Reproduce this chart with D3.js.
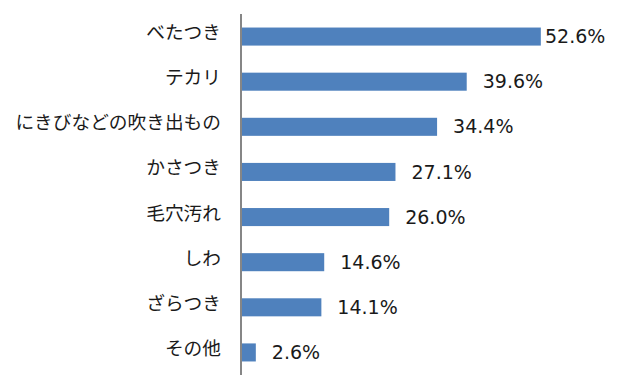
<!DOCTYPE html>
<html lang="ja">

<head>
  <meta charset="UTF-8">
  <title>肌の悩み</title>
  <script src="https://cdnjs.cloudflare.com/ajax/libs/d3/7.8.5/d3.min.js"></script>
  <style>
    body {
      margin: 0;
      background: #fff;
    }

    .cat-label {
      font: 18.7px "Noto Sans CJK JP", sans-serif;
      fill: #1a1a1a;
      text-anchor: end;
    }

    .val-label {
      font: 19px "DejaVu Sans", sans-serif;
      fill: #1a1a1a;
    }

    .bar {
      fill: #4f81bd;
    }

    .axis-line {
      stroke: #868686;
      stroke-width: 2px;
    }
  </style>
</head>

<body>
  <div id="chart"></div>
  <script>
    const categories = ["べたつき", "テカリ", "にきびなどの吹き出もの", "かさつき", "毛穴汚れ", "しわ", "ざらつき", "その他"];
    const values = [52.6, 39.6, 34.4, 27.1, 26.0, 14.6, 14.1, 2.6];

    const width = 620;
    const height = 384;

    const svg = d3.select("#chart")
      .append("svg")
      .attr("width", width)
      .attr("height", height);

    const x = d3.scaleLinear()
      .domain([0, 60])
      .range([241, 583]);

    const y = d3.scaleBand()
      .domain(categories)
      .range([14, 375])
      .paddingInner(0.6)
      .paddingOuter(0.3);

    const rows = categories.map((c, i) => ({ cat: c, val: values[i] }));

    // bars
    svg.selectAll(".bar")
      .data(rows)
      .join("rect")
      .attr("class", "bar")
      .attr("x", x(0))
      .attr("y", d => y(d.cat))
      .attr("width", d => x(d.val) - x(0))
      .attr("height", y.bandwidth());

    // vertical axis line
    svg.append("line")
      .attr("class", "axis-line")
      .attr("x1", x(0))
      .attr("x2", x(0))
      .attr("y1", y.range()[0])
      .attr("y2", y.range()[1]);

    // category labels
    svg.selectAll(".cat-label")
      .data(rows)
      .join("text")
      .attr("class", "cat-label")
      .attr("x", x(0) - 20)
      .attr("y", d => y(d.cat) + y.bandwidth() / 2 - 4)
      .attr("dy", "0.35em")
      .text(d => d.cat);

    // value labels (pulled in when they would run off the right edge)
    svg.selectAll(".val-label")
      .data(rows)
      .join("text")
      .attr("class", "val-label")
      .attr("x", d => Math.min(x(d.val) + 16, width - 75))
      .attr("y", d => y(d.cat) + y.bandwidth() / 2)
      .attr("dy", "0.35em")
      .text(d => d.val.toFixed(1) + "%");
  </script>
</body>

</html>
